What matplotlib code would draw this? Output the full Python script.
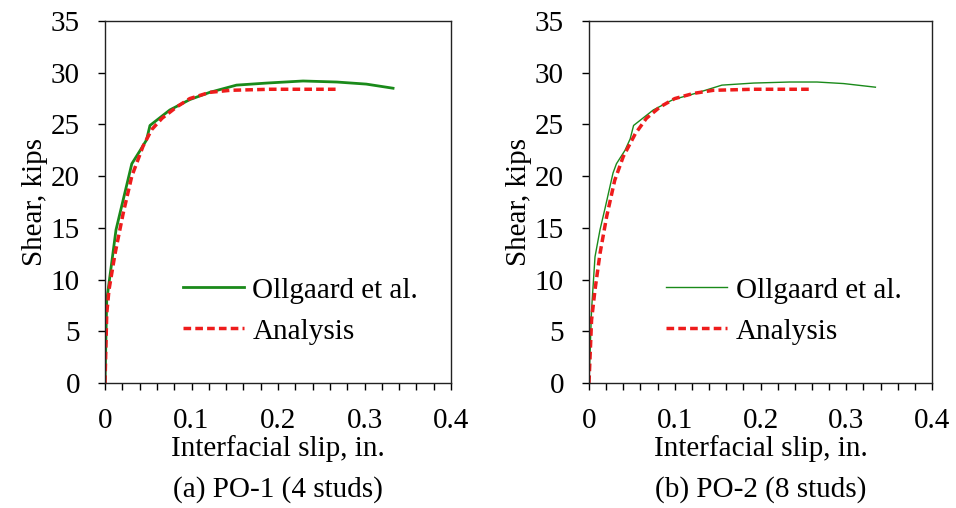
import matplotlib
matplotlib.use('Agg')
import matplotlib.pyplot as plt
from matplotlib.ticker import MultipleLocator

plt.rcParams['font.family'] = ['Liberation Serif', 'DejaVu Serif']
plt.rcParams['font.size'] = 21

# PO-1 (4 studs)
slip_test_1 = [0, 0.002, 0.0077, 0.0127, 0.021, 0.031, 0.040, 0.048, 0.052, 0.075, 0.098,
               0.121, 0.152, 0.187, 0.229, 0.268, 0.302, 0.333]
shear_test_1 = [0, 8.0, 11.6, 14.8, 17.7, 21.2, 22.4, 23.5, 24.9, 26.4, 27.4,
                28.1, 28.8, 29.0, 29.2, 29.1, 28.9, 28.5]
slip_fe_1 = [0, 0.002, 0.0046, 0.0116, 0.021, 0.031, 0.044, 0.054, 0.066, 0.083, 0.098,
             0.121, 0.145, 0.191, 0.270]
shear_fe_1 = [0, 6.7, 9.0, 12.5, 16.4, 20.0, 22.9, 24.5, 25.6, 26.7, 27.5,
              28.1, 28.3, 28.4, 28.4]

# PO-2 (8 studs)
slip_test_2 = [0, 0.003, 0.007, 0.0128, 0.019, 0.028, 0.032, 0.042, 0.048, 0.052, 0.075,
               0.098, 0.124, 0.155, 0.192, 0.234, 0.266, 0.297, 0.334]
shear_test_2 = [0, 7.1, 12.2, 14.8, 17.0, 20.3, 21.2, 22.5, 23.6, 24.9, 26.4,
                27.4, 28.0, 28.8, 29.0, 29.1, 29.1, 28.95, 28.6]
slip_fe_2 = [0, 0.003, 0.007, 0.0128, 0.0206, 0.030, 0.040, 0.054, 0.067, 0.083, 0.100,
             0.122, 0.145, 0.192, 0.260]
shear_fe_2 = [0, 6.1, 9.0, 12.5, 16.1, 19.6, 21.9, 24.1, 25.6, 26.7, 27.5,
              28.0, 28.3, 28.4, 28.4]

captions = ['(a) PO-1 (4 studs)', '(b) PO-2 (8 studs)']

fig = plt.figure(figsize=(9.56, 5.08), dpi=100)
ax1 = fig.add_axes([105/956, 125/508, 346/956, 362/508])
ax2 = fig.add_axes([589/956, 125/508, 343/956, 362/508])

panels = [
    (ax1, slip_test_1, shear_test_1, slip_fe_1, shear_fe_1, 2.0),
    (ax2, slip_test_2, shear_test_2, slip_fe_2, shear_fe_2, 1.0),
]

for i, (ax, xs, ys, xa, ya, lw) in enumerate(panels):
    ax.plot(xs, ys, color='#1a8a1a', lw=lw, label='Ollgaard et al.')
    ax.plot(xa, ya, color='#ee1c1c', lw=2.5, ls=(0, (2.2, 1.2)), label='Analysis')
    ax.set_xlim(0, 0.4)
    ax.set_ylim(0, 35)
    ax.xaxis.set_major_locator(MultipleLocator(0.1))
    ax.xaxis.set_minor_locator(MultipleLocator(0.02))
    ax.yaxis.set_major_locator(MultipleLocator(5))
    ax.xaxis.set_major_formatter(plt.FuncFormatter(lambda v, p: '0' if v == 0 else f'{v:.1f}'))
    ax.tick_params(which='both', direction='out', length=5, width=1, top=False, right=False)
    ax.tick_params(axis='x', which='major', pad=13)
    ax.tick_params(axis='y', pad=13)
    for s in ax.spines.values():
        s.set_linewidth(1.0)
        s.set_color('#222222')
    ax.set_ylabel('Shear, kips', labelpad=2)
    ax.set_xlabel('Interfacial slip, in.', labelpad=1)
    ax.text(0.5, -0.295, captions[i], transform=ax.transAxes, ha='center', va='center')
    ax.legend(loc='center left', bbox_to_anchor=(0.225, 0.199), frameon=False,
              handlelength=2.1, handletextpad=0.28, labelspacing=0.5,
              borderaxespad=0, borderpad=0)

fig.savefig('out.png', dpi=100)
